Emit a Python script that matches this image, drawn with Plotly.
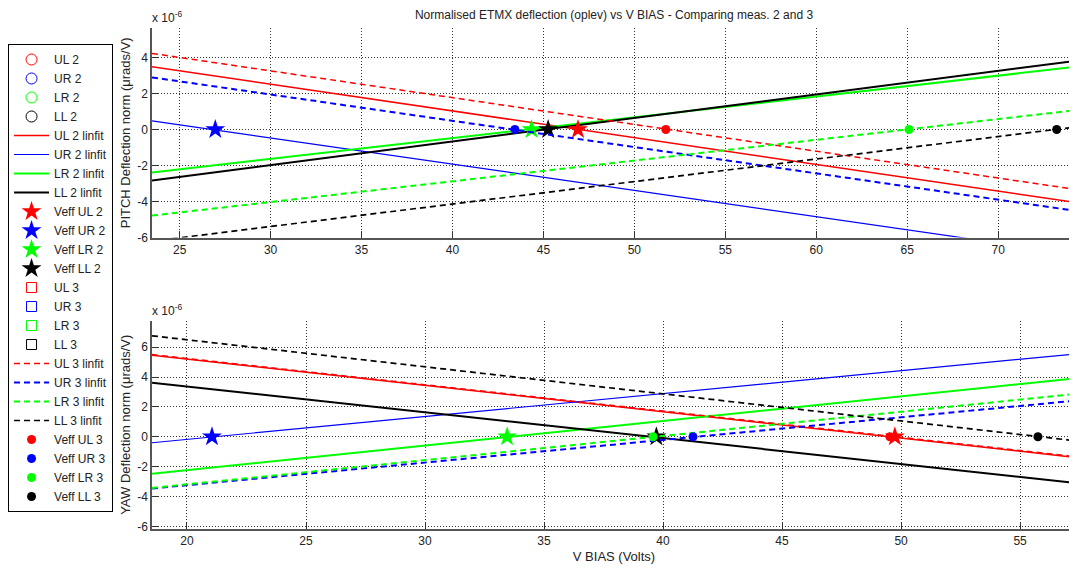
import plotly.graph_objects as go
from plotly.subplots import make_subplots

channels = ["UL", "UR", "LR", "LL"]
colors = ["#ff0000", "#0000ff", "#00ff00", "#000000"]

# x extents of the fitted lines (Volts)
pitch_x = [23.48, 74.28]
yaw_x = [18.53, 57.35]

# PITCH linear fits (x 1e-6 rad/V) at the two x extents
pitch_fit2_start = [3.48, 0.48, -2.39, -2.83]
pitch_fit2_end = [-4.06, -6.92, 3.48, 3.81]
pitch_fit3_start = [4.22, 2.89, -4.78, -6.20]
pitch_fit3_end = [-3.33, -4.52, 1.07, 0.14]
pitch_veff2 = [46.90, 26.96, 44.35, 45.26]
pitch_veff3 = [51.73, 43.43, 65.10, 73.22]

# YAW linear fits
yaw_fit2_start = [5.46, -0.40, -2.48, 3.62]
yaw_fit2_end = [-1.38, 5.55, 3.92, -3.09]
yaw_fit3_start = [5.50, -3.46, -3.42, 6.76]
yaw_fit3_end = [-1.33, 2.42, 2.87, -0.27]
yaw_veff2 = [49.74, 21.05, 33.45, 39.72]
yaw_veff3 = [49.53, 41.26, 39.58, 55.75]

fit2_width = [1.5, 1.2, 2.0, 2.0]
fit3_width = [1.5, 2.0, 2.0, 1.7]

pitch_yticks = [-6, -4, -2, 0, 2, 4]
yaw_yticks = [-6, -4, -2, 0, 2, 4, 6]
pitch_xticks = [25, 30, 35, 40, 45, 50, 55, 60, 65, 70]
yaw_xticks = [20, 25, 30, 35, 40, 45, 50, 55]

fig = make_subplots(rows=2, cols=1, vertical_spacing=0.1656)

plots = [
    (1, pitch_x, pitch_fit2_start, pitch_fit2_end, pitch_fit3_start, pitch_fit3_end, pitch_veff2, pitch_veff3),
    (2, yaw_x, yaw_fit2_start, yaw_fit2_end, yaw_fit3_start, yaw_fit3_end, yaw_veff2, yaw_veff3),
]

for row, xr, f2s, f2e, f3s, f3e, v2, v3 in plots:
    leg = row == 1
    # raw data (not visible in range) - legend entries
    for i, ch in enumerate(channels):
        fig.add_trace(go.Scatter(x=[None], y=[None], mode="markers", name=f"{ch} 2",
                                 marker=dict(symbol="circle-open", size=11, color=colors[i], line=dict(width=1)),
                                 showlegend=leg), row=row, col=1)
    for i, ch in enumerate(channels):
        fig.add_trace(go.Scatter(x=xr, y=[f2s[i], f2e[i]], mode="lines", name=f"{ch} 2 linfit",
                                 line=dict(color=colors[i], width=fit2_width[i]),
                                 showlegend=leg), row=row, col=1)
    for i, ch in enumerate(channels):
        fig.add_trace(go.Scatter(x=[v2[i]], y=[0], mode="markers", name=f"Veff {ch} 2",
                                 marker=dict(symbol="star", size=15, color=colors[i], line=dict(width=0)),
                                 showlegend=leg), row=row, col=1)
    for i, ch in enumerate(channels):
        fig.add_trace(go.Scatter(x=[None], y=[None], mode="markers", name=f"{ch} 3",
                                 marker=dict(symbol="square-open", size=10, color=colors[i], line=dict(width=1)),
                                 showlegend=leg), row=row, col=1)
    for i, ch in enumerate(channels):
        fig.add_trace(go.Scatter(x=xr, y=[f3s[i], f3e[i]], mode="lines", name=f"{ch} 3 linfit",
                                 line=dict(color=colors[i], width=fit3_width[i], dash="6px,4px"),
                                 showlegend=leg), row=row, col=1)
    for i, ch in enumerate(channels):
        fig.add_trace(go.Scatter(x=[v3[i]], y=[0], mode="markers", name=f"Veff {ch} 3",
                                 marker=dict(symbol="circle", size=9, color=colors[i], line=dict(width=0)),
                                 showlegend=leg), row=row, col=1)

axis_common = dict(showline=True, linecolor="#555", linewidth=1.5, ticks="inside", ticklen=7,
                   tickcolor="#333", tickwidth=1, showgrid=True, gridcolor="#333", griddash="1px,2px",
                   gridwidth=1, zeroline=False, mirror=False, tickfont=dict(size=12, color="#222"),
                   automargin=False)

fig.update_xaxes(**axis_common)
fig.update_yaxes(**axis_common)

fig.update_xaxes(range=pitch_x, tickvals=pitch_xticks, row=1, col=1)
fig.update_xaxes(range=yaw_x, tickvals=yaw_xticks, row=2, col=1,
                 title=dict(text="V BIAS (Volts)", font=dict(size=13, color="#222"), standoff=5))
fig.update_yaxes(range=[-6.0, 5.63], tickvals=pitch_yticks, ticktext=[str(v) for v in pitch_yticks],
                 row=1, col=1,
                 title=dict(text="PITCH Deflection norm (\u03bcrads/V)", font=dict(size=13, color="#222"), standoff=4))
fig.update_yaxes(range=[-6.17, 7.78], tickvals=yaw_yticks, ticktext=[str(v) for v in yaw_yticks],
                 row=2, col=1,
                 title=dict(text="YAW Deflection norm (\u03bcrads/V)", font=dict(size=13, color="#222"), standoff=4))

# page body has an 8px margin, so the figure is 8px smaller and offsets are shifted
fig.update_layout(
    yaxis=dict(domain=[0.5817, 1.0]),
    yaxis2=dict(domain=[0.0, 0.4161]),
    width=1069, height=562, autosize=False,
    margin=dict(l=144, r=1, t=20, b=41, autoexpand=False),
    paper_bgcolor="white", plot_bgcolor="white",
    font=dict(family="Liberation Sans, Arial, sans-serif", size=12, color="#222"),
    title=dict(text="Normalised ETMX deflection (oplev) vs V BIAS - Comparing meas. 2 and 3",
               x=0.5, xref="paper", y=1 - 7 / 562, yanchor="middle", font=dict(size=12, color="#222"),
               automargin=False),
    legend=dict(x=-0.1558, xanchor="left", y=0.501, yanchor="middle", bordercolor="#000", borderwidth=1,
                bgcolor="white", font=dict(size=12, color="#222"), tracegroupgap=0, itemwidth=35),
    showlegend=True,
)

fig.add_annotation(text="x 10<sup>-6</sup>", xref="paper", yref="paper", x=0.0, y=1.0,
                   xanchor="left", yanchor="bottom", showarrow=False, font=dict(size=12, color="#222"),
                   xshift=-2, yshift=1)
fig.add_annotation(text="x 10<sup>-6</sup>", xref="paper", yref="paper", x=0.0, y=0.4161,
                   xanchor="left", yanchor="bottom", showarrow=False, font=dict(size=12, color="#222"),
                   xshift=-2, yshift=1)

fig.write_html("out.html")
